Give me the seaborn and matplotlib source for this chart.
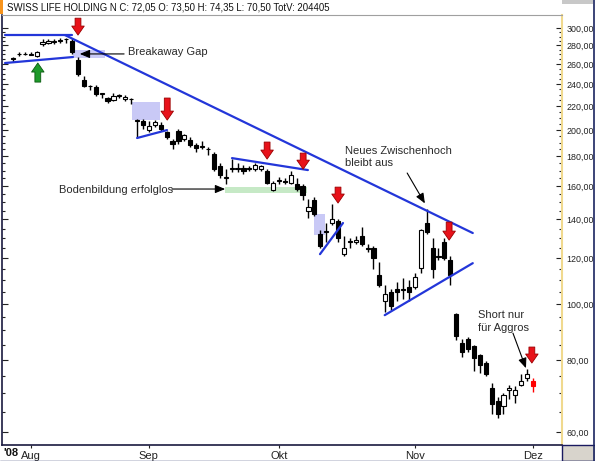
import numpy as np
import pandas as pd
import matplotlib
matplotlib.use('Agg')
import matplotlib.pyplot as plt
import seaborn as sns
from matplotlib.ticker import FixedLocator, NullFormatter, FixedFormatter
from matplotlib.patches import Rectangle
from matplotlib.lines import Line2D

sns.set_theme(style='white')
plt.rcParams['font.family'] = ['Liberation Sans', 'DejaVu Sans']

# ---------------- data ----------------
dates = pd.bdate_range('2008-07-29', '2008-12-01')
dates = dates[dates != pd.Timestamp('2008-08-01')]   # Swiss national holiday

opens = [266, 270, 271, 269.5, 268, 282, 283, 284, 285, 287,
         285, 264, 244, 238, 237, 231, 227, 225, 229, 226,
         226, 207.5, 207, 200, 204, 204, 198, 191, 199, 193,
         192, 188, 187, 185, 182, 173, 165, 171, 171, 172,
         171, 171, 171, 170, 157.5, 163, 163, 162, 161, 160,
         145, 151, 132, 133, 138, 139, 122, 128, 128, 131,
         125, 125, 112, 101, 105, 106, 105.5, 107, 107, 115.5,
         138, 125, 121, 128, 119, 96, 85.5, 87, 84.5, 81.5,
         79, 71.5, 68, 66.5, 71, 69.5, 72.5, 74.5, 73.5]
highs = [267, 273, 273, 273, 274, 287, 287, 287, 288, 288,
         288, 267, 248, 239, 239, 232, 228, 232, 231, 230,
         227, 209, 209, 207, 208, 206, 199, 193, 201, 197,
         194, 190, 191, 187, 183, 175, 171, 178, 175, 174,
         173, 175, 174, 171, 163, 166, 165, 170, 165, 161,
         152, 153, 134, 138, 149, 140, 131, 130, 131, 136,
         127, 126, 118, 108, 106, 109, 111, 110, 113, 135,
         146, 130, 125, 130, 121, 96.5, 87, 87.5, 85, 82,
         79.5, 73, 69, 70, 72.5, 72, 75.5, 77, 74.35]
lows = [262, 268, 269, 269, 267, 279, 282, 282, 283, 283,
        271, 248, 237, 234, 229, 227, 223, 224, 227, 224,
        222, 194, 201, 198, 202, 199, 193, 185, 189, 191,
        187, 183, 185, 181, 170, 165, 161, 169, 169, 168,
        170, 170, 170, 161, 157, 161, 161, 161, 157, 151,
        141, 142, 125, 128, 137, 128, 121, 125, 127, 126,
        123, 115, 107, 97, 97.5, 101, 102, 101, 106, 113,
        132, 111, 119, 119, 108, 86.5, 81, 82.5, 76.5, 76,
        75, 64.5, 63.5, 64.5, 68.5, 67.5, 72, 73.5, 70.5]
closes = [265, 271, 270.5, 270, 273, 284, 285, 285, 286, 287.5,
          273, 250, 238, 238.5, 231, 231.5, 224, 229, 230, 228,
          226.5, 208, 204, 203, 206, 201, 194, 189, 191, 196,
          188, 186, 187.5, 185.5, 171, 167, 166, 172, 172, 170,
          171.5, 174, 173, 162, 162, 163.5, 162.5, 167, 158, 154,
          147, 143, 126, 133.5, 140, 130, 125, 128.5, 129, 127,
          124.5, 120, 108, 104, 99, 105, 106, 105, 111.5, 134,
          133, 115, 120.5, 120, 112, 88, 82.5, 83.5, 80.5, 78.5,
          75.5, 67, 64.5, 69.5, 71.5, 71, 73.5, 75.5, 72.05]

month_labels = ['Aug', 'Sep', 'Okt', 'Nov', 'Dez']
price_ticks = [60, 80, 100, 120, 140, 160, 180, 200, 220, 240, 260, 280, 300]
price_minor = list(range(60, 305, 5))
title_text = 'SWISS LIFE HOLDING N C: 72,05 O: 73,50 H: 74,35 L: 70,50 TotV: 204405'

# trendlines: (x0, y0, x1, y1) in (bar index, price)
trendlines = [
    (-1.35, 291.7, 10.0, 291.7),
    (-1.35, 261.0, 10.15, 267.3),
    (8.8, 291.7, 77.8, 132.6),
    (21.0, 193.6, 26.06, 199.8),
    (37.06, 178.7, 49.9, 170.4),
    (51.95, 121.9, 55.84, 138.0),
    (62.9, 95.6, 77.8, 117.6),
]
# shaded zones: (x0, x1, p_low, p_high, colour)
zones = [
    (10.15, 15.6, 266.2, 274.8, '#c9c9f6'),
    (20.1, 24.9, 207.9, 223.4, '#c9c9f6'),
    (50.9, 52.8, 131.5, 143.0, '#c9c9f6'),
    (35.9, 49.7, 155.5, 159.2, '#c6e9c6'),
]
# block arrows: (x, tail price, tip price, colour)
block_arrows = [
    (11.0, 312.0, 291.7, 'red'),
    (26.1, 227.0, 207.9, 'red'),
    (43.0, 190.5, 178.0, 'red'),
    (49.1, 182.3, 171.0, 'red'),
    (55.0, 159.2, 149.4, 'red'),
    (73.8, 138.5, 128.9, 'red'),
    (87.8, 84.2, 79.0, 'red'),
    (4.2, 241.9, 261.0, 'green'),
]
# text notes: (text, x, price)
notes = [
    ('Breakaway Gap', 19.4, 272.6),
    ('Bodenbildung erfolglos', 7.8, 157.4),
    ('Neues Zwischenhoch\nbleibt aus', 56.2, 179.5),
    ('Short nur\nfür Aggros', 78.7, 93.2),
]
# pointer arrows: (x_from, p_from, x_to, p_to)
pointers = [
    (18.8, 270.6, 11.3, 270.6),
    (26.9, 158.0, 35.9, 158.0),
    (66.7, 168.4, 69.7, 149.2),
    (84.6, 89.0, 86.8, 77.4),
]

# ---------------- figure ----------------
df = pd.DataFrame({'date': dates, 'open': opens, 'high': highs,
                   'low': lows, 'close': closes})
df['idx'] = np.arange(len(df))

W, H = 595, 461
fig = plt.figure(figsize=(W / 100, H / 100), dpi=100)
fig.patch.set_facecolor('white')
ax = fig.add_axes([2 / W, 16 / H, 560 / W, 430 / H])
ax.set_facecolor('white')
ax.set_yscale('log')

# zones
for x0, x1, p0, p1, col in zones:
    ax.add_patch(Rectangle((x0, p0), x1 - x0, p1 - p0, facecolor=col,
                           edgecolor='none', zorder=1))

# candles
up = df['close'] >= df['open']
last = df['idx'] == df['idx'].max()
wick_col = np.where(last, 'red', 'black')
ax.vlines(df['idx'], df['low'], df['high'], colors=wick_col, linewidth=1.0, zorder=2)
bottom = np.minimum(df['open'], df['close'])
height = np.maximum(np.abs(df['close'] - df['open']), 0.4)
face = np.where(last, 'red', np.where(up, 'white', 'black'))
edge = np.where(last, 'red', 'black')
ax.bar(df['idx'], height, bottom=bottom, width=0.7, color=face,
       edgecolor=edge, linewidth=0.8, zorder=3)

# trendlines via seaborn
for x0, y0, x1, y1 in trendlines:
    sns.lineplot(x=[x0, x1], y=[y0, y1], ax=ax, color='#2336d9',
                 linewidth=1.6, zorder=4, legend=False)

# block arrows
for x, p0, p1, col in block_arrows:
    fc = '#e8121a' if col == 'red' else '#1e9a2a'
    ec = '#9a0000' if col == 'red' else '#0a5a10'
    ax.annotate('', xy=(x, p1), xytext=(x, p0),
                arrowprops=dict(arrowstyle='simple,head_length=0.65,head_width=0.9,tail_width=0.42',
                                fc=fc, ec=ec, lw=0.6, shrinkA=0, shrinkB=0,
                                mutation_scale=10), zorder=6)

# notes
for txt, x, p in notes:
    ax.text(x, p, txt, fontsize=8, color='#2a2a2a', ha='left', va='center',
            linespacing=1.3, zorder=6)
for x0, p0, x1, p1 in pointers:
    ax.annotate('', xy=(x1, p1), xytext=(x0, p0),
                arrowprops=dict(arrowstyle='-|>,head_length=0.6,head_width=0.25',
                                fc='black', ec='black', lw=0.8, shrinkA=0,
                                shrinkB=0, mutation_scale=10), zorder=6)

# axes setup
ax.set_xlim(-1.86, 92.9)
ax.set_ylim(57.0, 316.0)
ax.yaxis.set_major_locator(FixedLocator(price_ticks))
ax.yaxis.set_major_formatter(FixedFormatter([f'{v},00' for v in price_ticks]))
ax.yaxis.set_minor_locator(FixedLocator(price_minor))
ax.yaxis.set_minor_formatter(NullFormatter())
ax.tick_params(axis='y', which='both', direction='in', left=True, right=True,
               labelleft=False, labelright=True, labelsize=6.4, pad=3,
               colors='#222222')
ax.tick_params(axis='y', which='major', length=4, width=0.8)
ax.tick_params(axis='y', which='minor', length=2, width=0.8)

month_pos = [int(df.index[(df['date'].dt.month == m)][0]) for m in [8, 9, 10, 11, 12]]
ax.set_xticks(month_pos)
ax.set_xticklabels(month_labels)
ax.tick_params(axis='x', which='major', direction='out', bottom=True, length=2,
               width=0.8, labelsize=8, pad=2, colors='#222222')
ax.set_xlabel('')
ax.set_ylabel('')
ax.grid(False)

for s in ['left', 'bottom']:
    ax.spines[s].set_color('#1a1a40')
    ax.spines[s].set_linewidth(1.2)
ax.spines['right'].set_color('#f0d98e')
ax.spines['right'].set_linewidth(1.5)
ax.spines['top'].set_color('#a0a0a0')
ax.spines['top'].set_linewidth(0.8)

# frame decorations
fig.text(3 / W, 1 - 453 / H, "'08", fontsize=8, fontweight='bold',
         va='center', ha='left', color='#111111')
fig.text(7 / W, 1 - 7 / H, title_text, fontsize=6.9, va='center', ha='left',
         color='#111111')
fig.patches.append(Rectangle((0, 1 - 14 / H), 3 / W, 14 / H,
                             transform=fig.transFigure, facecolor='#f7941d',
                             edgecolor='none'))
fig.patches.append(Rectangle((562 / W, 0), 33 / W, 16 / H,
                             transform=fig.transFigure, facecolor='#d8d4cc',
                             edgecolor='#1a1a60', linewidth=1.0))
fig.lines.append(Line2D([594 / W, 594 / W], [0, 1], transform=fig.transFigure,
                        color='#1a2460', linewidth=1.2))
fig.lines.append(Line2D([0, 1], [0.5 / H, 0.5 / H], transform=fig.transFigure,
                        color='#1a2460', linewidth=1.0))
fig.patches.append(Rectangle((562 / W, 1 - 4 / H), 31 / W, 4 / H,
                             transform=fig.transFigure, facecolor='#c8c8c8',
                             edgecolor='none'))

fig.savefig('out.png', dpi=100, facecolor='white')
